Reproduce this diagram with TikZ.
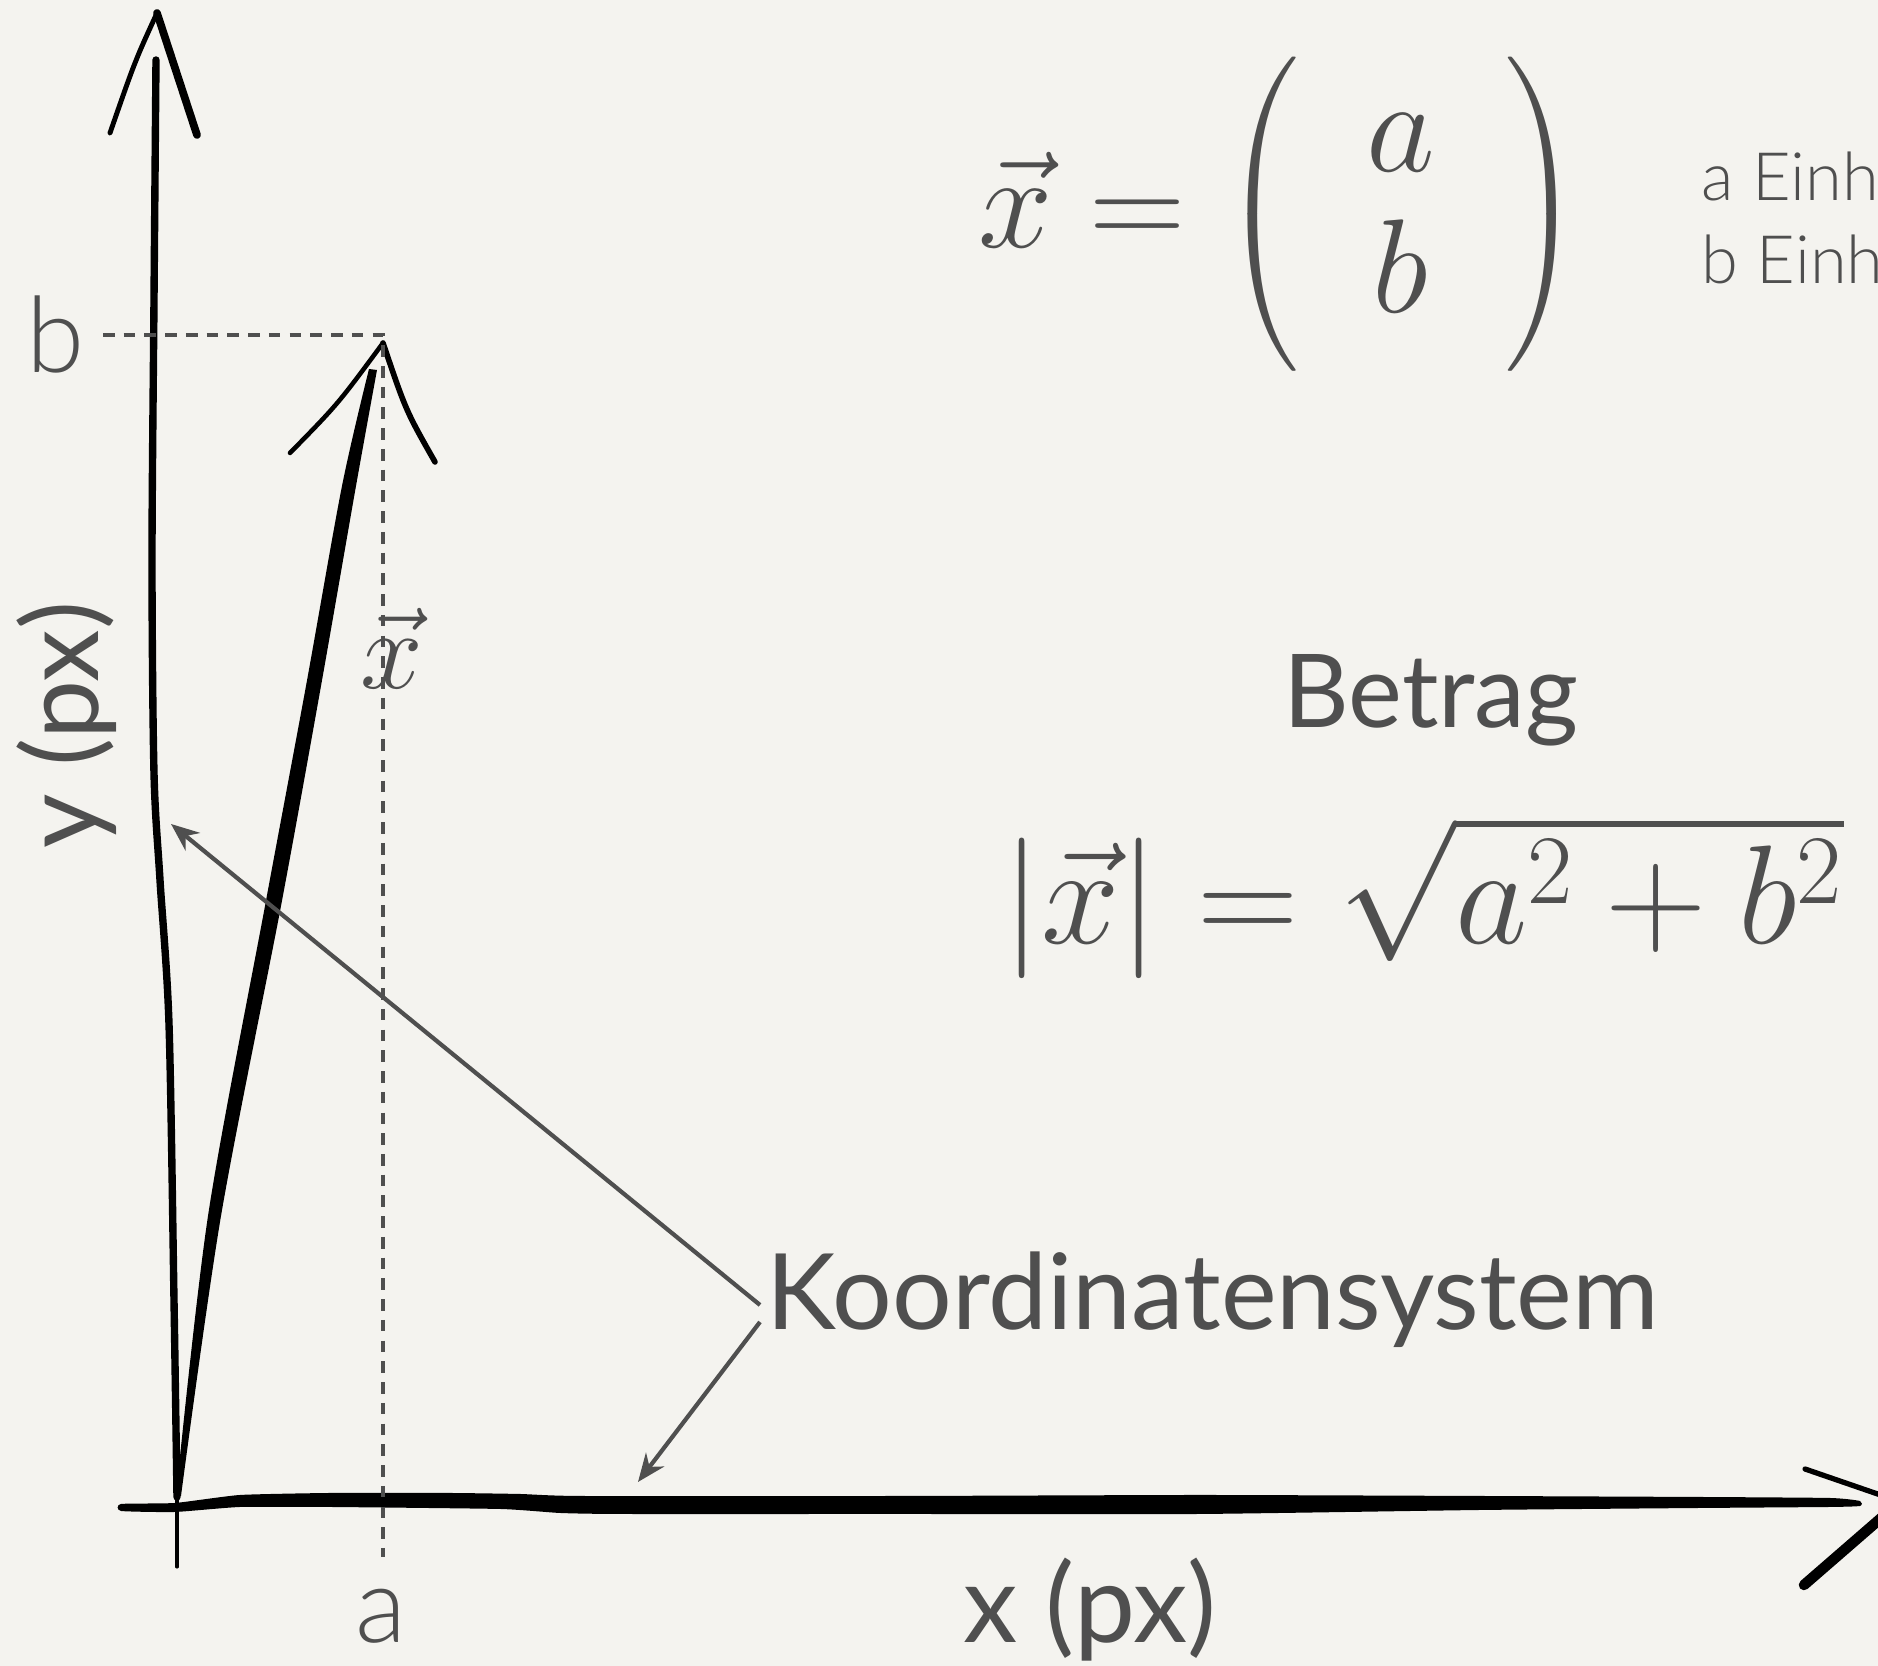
\IfFileExists{fix-cm.sty}{\RequirePackage{fix-cm}}{}
\documentclass[tikz,border=0pt]{standalone}
\usepackage{exscale}
\usepackage[no-math]{fontspec}
\newfontfamily\gillfont{Lato}
\IfFontExistsTF{Lato Light}{\newfontfamily\gilllight{Lato Light}}{\let\gilllight\gillfont}
\usetikzlibrary{arrows.meta,positioning}

\definecolor{papier}{HTML}{F4F3EF}
\definecolor{tinte}{HTML}{4F4F4F}

\tikzset{
  beschriftung/.style={text=tinte, inner sep=0pt, font=\gillfont\fontsize{30}{36}\selectfont},
  duenn/.style={text=tinte, inner sep=0pt, font=\gilllight\fontsize{30}{36}\selectfont},
  ueberschrift/.style={text=tinte, inner sep=0pt, font=\gillfont\fontsize{29}{34}\selectfont},
  klein/.style={text=tinte, inner sep=0pt, font=\gilllight\fontsize{19}{23}\selectfont},
  formel/.style={text=tinte, inner sep=0pt, font=\fontsize{40}{40}\selectfont},
  hilfslinie/.style={tinte, line width=1.3pt, dash pattern=on 3.3pt off 2.6pt},
  zeiger/.style={tinte, line width=1.2pt, -{Stealth[length=8pt,width=6.5pt]}},
  strich/.style={black, line cap=round, line join=round},
}

\begin{document}
\begin{tikzpicture}
    % Hintergrund
    \fill[papier] (0,0) rectangle (18.78,16.66);
    \useasboundingbox (0,0) rectangle (18.78,16.66);
    \clip (0,0) rectangle (18.78,16.66);

    % y-Achse, von Hand gezogen
    \draw[strich, line width=2.1pt] plot[smooth, tension=0.5] coordinates {(1.56,16.06) (1.54,13.66) (1.52,11.06) (1.54,8.93) (1.60,7.86) (1.69,6.42) (1.74,3.66) (1.77,1.69)};
    \draw[strich, line width=0.9pt] (1.77,1.69) -- (1.77,0.99);
    \draw[strich, line width=1.4pt] (1.10,15.33) .. controls (1.35,16.05) .. (1.57,16.53);
    \draw[strich, line width=2.2pt] (1.57,16.53) .. controls (1.76,15.95) .. (1.97,15.31);

    % x-Achse
    \fill[black] plot[smooth cycle, tension=0.3] coordinates {(1.21,1.62) (1.75,1.63) (2.40,1.71) (3.30,1.73) (4.50,1.73) (5.20,1.72) (5.80,1.70) (9.00,1.70) (12.00,1.71) (14.80,1.70) (17.00,1.69) (18.30,1.68) (18.60,1.65) (18.60,1.60) (18.30,1.59) (17.00,1.58) (14.80,1.56) (12.00,1.52) (9.00,1.52) (6.20,1.52) (5.60,1.53) (5.00,1.57) (3.30,1.59) (2.40,1.59) (1.75,1.54) (1.21,1.55)};
    \draw[strich, line width=1.5pt] (18.05,1.97) -- (18.95,1.66);
    \draw[strich, line width=3pt] (18.04,0.81) -- (18.95,1.60);

    % Vektor x
    \fill[black] plot[smooth, tension=0.5] coordinates {(1.76,1.70) (2.08,4.50) (2.65,7.60) (3.06,9.80) (3.42,11.80) (3.69,12.97)}
        -- plot[smooth, tension=0.5] coordinates {(3.77,12.96) (3.56,11.80) (3.21,9.80) (2.81,7.60) (2.21,4.50) (1.81,1.70)} -- cycle;
    \coordinate (spitze) at (3.83,13.31);
    \draw[strich, line width=1.3pt] (2.90,12.13) .. controls (3.38,12.62) .. (3.83,13.23);
    \draw[strich, line width=1.6pt] (3.83,13.23) .. controls (4.06,12.55) .. (4.35,12.04);

    % Hilfslinien zu a und b
    \draw[hilfslinie] (1.03,13.31) -- (spitze) -- (3.83,1.09);

    % Achsenbeschriftung
    \node[duenn, anchor=base] (b) at (0.56,12.93) {b};
    \node[duenn, anchor=base] (a) at (3.81,0.23) {a};
    \node[beschriftung, font=\gillfont\fontsize{31}{36}\selectfont, anchor=base] (xachse) at (10.90,0.23) {x (px)};
    \node[beschriftung, rotate=90] (yachse) at (0.67,9.41) {y (px)};
    \node[formel, font=\fontsize{32}{34}\selectfont, anchor=base] (xvek) at (3.92,9.77) {$\vec{x}$};

    % Formeln
    \node[formel, font=\fontsize{38}{40}\selectfont] (vekdef) at (12.80,14.52) {$\vec{x} = \left(\begin{array}{@{\hspace{19pt}}c@{\hspace{20pt}}} a\\ b \end{array}\right)$};
    \node[klein, anchor=base west] (einha) at (17.01,14.65) {a Einh};
    \node[klein, anchor=base west] (einhb) at (17.01,13.82) {b Einh};
    \node[ueberschrift, anchor=base] (betrag) at (14.31,9.38) {Betrag};
    \node[formel, anchor=base] (betragformel) at (14.23,7.22) {$|\vec{x}| = \sqrt{a^2+b^2}$};

    % Koordinatensystem mit Zeigern
    \node[beschriftung, anchor=base west, inner xsep=0.6mm] (koord) at (7.60,3.36) {Koordinatensystem};
    \coordinate (yziel) at (1.71,8.42);
    \coordinate (xziel) at (6.38,1.84);
    \draw[zeiger] ([yshift=2.5mm]koord.base west) -- (yziel);
    \draw[zeiger] ([yshift=0.8mm]koord.base west) -- (xziel);
\end{tikzpicture}
\end{document}
